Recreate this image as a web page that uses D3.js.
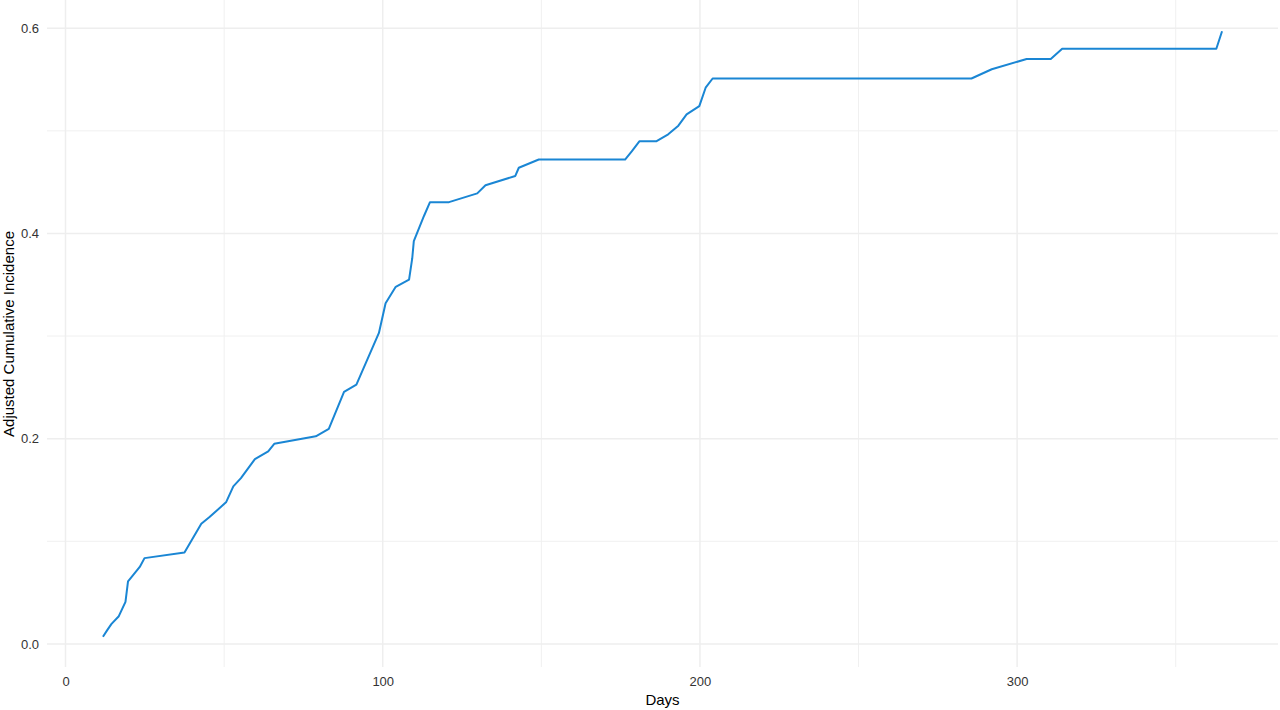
<!DOCTYPE html>
<html>
<head>
<meta charset="utf-8">
<script src="https://cdn.jsdelivr.net/npm/d3@7"></script>
<style>
  html, body { margin: 0; padding: 0; background: #fff; }
  svg { display: block; font-family: "Liberation Sans", Arial, sans-serif; }
</style>
</head>
<body>
<svg id="chart" width="1280" height="710"></svg>
<script>
// Data
const days = [11.8, 13.2, 14.5, 16.8, 18.9, 19.7, 21.3, 23.4, 24.9, 37.5, 42.8, 45.4, 50.6, 52.9, 55.3, 59.7, 63.9, 65.8, 78.9, 83.0, 87.8, 91.7, 98.8, 100.9, 104.1, 108.3, 109.3, 109.8, 113.0, 114.9, 120.9, 129.8, 132.4, 141.8, 142.9, 149.2, 176.4, 178.5, 180.9, 186.2, 190.0, 193.2, 195.8, 199.8, 201.8, 204.0, 285.6, 292.0, 303.0, 310.6, 314.2, 362.8, 364.6];
const incidence = [0.007, 0.0137, 0.0195, 0.027, 0.041, 0.061, 0.067, 0.075, 0.0836, 0.089, 0.117, 0.1236, 0.138, 0.1535, 0.1616, 0.180, 0.1877, 0.195, 0.2023, 0.2095, 0.2455, 0.2527, 0.303, 0.332, 0.348, 0.355, 0.3756, 0.3925, 0.417, 0.4305, 0.4305, 0.439, 0.447, 0.456, 0.464, 0.472, 0.472, 0.480, 0.4898, 0.4898, 0.4966, 0.505, 0.516, 0.524, 0.542, 0.551, 0.551, 0.560, 0.570, 0.570, 0.580, 0.580, 0.597];
const xTicks = [0, 100, 200, 300];
const xMinor = [50, 150, 250, 350];
const yTicks = [0.0, 0.2, 0.4, 0.6];
const yMinor = [0.1, 0.3, 0.5];
const xTitle = "Days";
const yTitle = "Adjusted Cumulative Incidence";

const svg = d3.select("#chart");
const panel = { left: 47, right: 1278, top: 1, bottom: 667 };

// ggplot-like 5% expansion of data range
const xExt = d3.extent(days), yExt = d3.extent(incidence);
const xPad = (xExt[1] - xExt[0]) * 0.05, yPad = (yExt[1] - yExt[0]) * 0.05;
const x = d3.scaleLinear().domain([xExt[0] - xPad, xExt[1] + xPad]).range([panel.left, panel.right]);
const y = d3.scaleLinear().domain([yExt[0] - yPad, yExt[1] + yPad]).range([panel.bottom, panel.top]);

const grid = svg.append("g");
// minor gridlines
grid.selectAll("line.xminor").data(xMinor).join("line")
  .attr("x1", d => x(d)).attr("x2", d => x(d))
  .attr("y1", panel.top - 1).attr("y2", panel.bottom)
  .attr("stroke", "#f0f0f0").attr("stroke-width", 1);
grid.selectAll("line.yminor").data(yMinor).join("line")
  .attr("x1", panel.left).attr("x2", panel.right)
  .attr("y1", d => y(d)).attr("y2", d => y(d))
  .attr("stroke", "#f0f0f0").attr("stroke-width", 1);
// major gridlines
grid.selectAll("line.xmajor").data(xTicks).join("line")
  .attr("x1", d => x(d)).attr("x2", d => x(d))
  .attr("y1", panel.top - 1).attr("y2", panel.bottom)
  .attr("stroke", "#eeeeee").attr("stroke-width", 1.5);
grid.selectAll("line.ymajor").data(yTicks).join("line")
  .attr("x1", panel.left).attr("x2", panel.right)
  .attr("y1", d => y(d)).attr("y2", d => y(d))
  .attr("stroke", "#eeeeee").attr("stroke-width", 1.5);

// axes (ticks only as labels, theme_minimal style)
const xAxis = d3.axisBottom(x).tickValues(xTicks).tickSize(0).tickPadding(0).tickFormat(d3.format("d"));
const gx = svg.append("g").attr("transform", `translate(0,${panel.bottom + 10})`).call(xAxis);
gx.select(".domain").remove();
gx.selectAll("text").attr("fill", "#333").attr("font-size", 13).attr("dy", "0.71em");

const yAxis = d3.axisLeft(y).tickValues(yTicks).tickSize(0).tickPadding(0).tickFormat(d3.format(".1f"));
const gy = svg.append("g").attr("transform", `translate(${panel.left - 8},0)`).call(yAxis);
gy.select(".domain").remove();
gy.selectAll("text").attr("fill", "#333").attr("font-size", 13);

// titles
svg.append("text").attr("x", (panel.left + panel.right) / 2).attr("y", 705)
  .attr("text-anchor", "middle").attr("font-size", 15).attr("fill", "#000").text(xTitle);
svg.append("text").attr("transform", `translate(14,${(panel.top + panel.bottom) / 2}) rotate(-90)`)
  .attr("text-anchor", "middle").attr("font-size", 15).attr("fill", "#000").text(yTitle);

// line
const line = d3.line().x((d, i) => x(days[i])).y((d, i) => y(incidence[i]));
svg.append("path").datum(incidence).attr("d", line)
  .attr("fill", "none").attr("stroke", "#1a86d4").attr("stroke-width", 2)
  .attr("stroke-linejoin", "round");
</script>
</body>
</html>
